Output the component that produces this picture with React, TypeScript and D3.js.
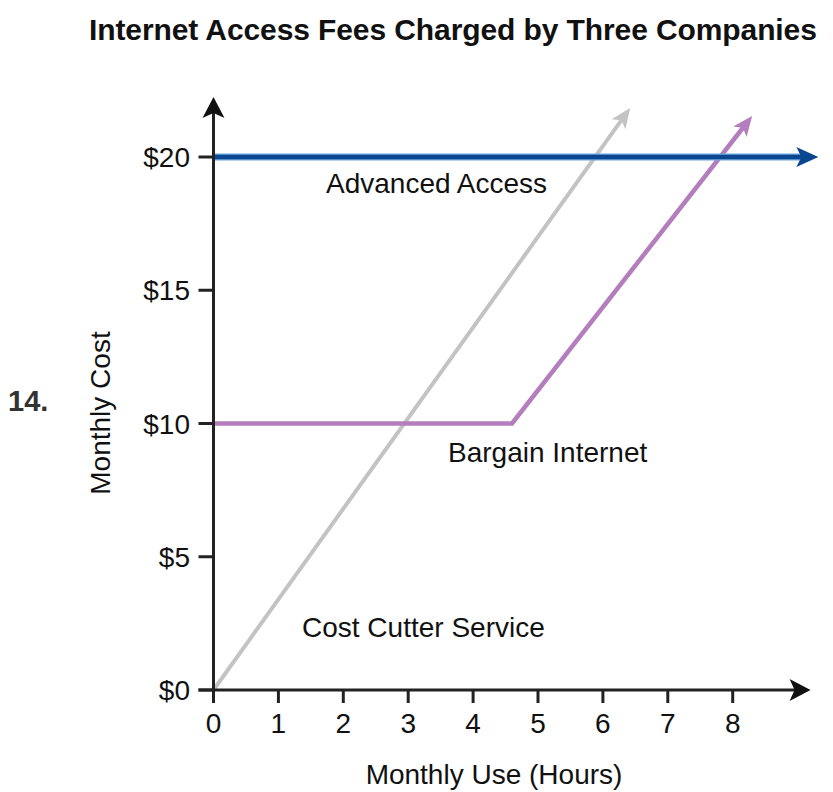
import React from 'react';
import * as d3 from 'd3';

const hourTicks = [0, 1, 2, 3, 4, 5, 6, 7, 8];
const costTicks = [0, 5, 10, 15, 20];
const costTickLabels = ['$0', '$5', '$10', '$15', '$20'];

const costCutterHours = [0, 6.42];
const costCutterCost = [0, 21.84];
const bargainHours = [0, 4.6, 8.3];
const bargainCost = [10, 10, 21.54];
const advancedHours = [0, 9.32];
const advancedCost = [20, 20];

const title = 'Internet Access Fees Charged by Three Companies';
const xTitle = 'Monthly Use (Hours)';
const yTitle = 'Monthly Cost';
const questionNo = '14.';

const FONT = '"Liberation Sans", Arial, Helvetica, sans-serif';

type P = [number, number];

function arrowGeom(pts: P[], L: number, W: number, N: number) {
  const p1 = pts[pts.length - 1];
  const p0 = pts[pts.length - 2];
  const dx = p1[0] - p0[0];
  const dy = p1[1] - p0[1];
  const len = Math.hypot(dx, dy);
  const ux = dx / len, uy = dy / len;
  const nx = -uy, ny = ux;
  const bx = p1[0] - L * ux, by = p1[1] - L * uy;
  const notch: P = [p1[0] - (L - N) * ux, p1[1] - (L - N) * uy];
  const head = [
    p1,
    [bx + (W / 2) * nx, by + (W / 2) * ny],
    notch,
    [bx - (W / 2) * nx, by - (W / 2) * ny],
  ];
  const linePts = [...pts.slice(0, -1), [p1[0] - (L - N - 1) * ux, p1[1] - (L - N - 1) * uy]] as P[];
  return { head: 'M' + head.map((p) => p.join(',')).join('L') + 'Z', linePts };
}

export default function App() {
  const x = d3.scaleLinear().domain([0, 8]).range([213.5, 732.7]);
  const y = d3.scaleLinear().domain([0, 20]).range([690, 157]);
  const line = d3.line<P>().x((d) => d[0]).y((d) => d[1]);

  const toPx = (hs: number[], cs: number[]): P[] => hs.map((h, i) => [x(h), y(cs[i])]);

  const cc = arrowGeom(toPx(costCutterHours, costCutterCost), 20, 17, 5);
  const bi = arrowGeom(toPx(bargainHours, bargainCost), 20, 17, 5);
  const aa = arrowGeom(toPx(advancedHours, advancedCost), 22, 20, 5);

  const yAxisTop = 22.25;
  const xAxisEnd = 9.2;
  const yAx = arrowGeom([[x(0), y(0) + 13], [x(0), y(yAxisTop)]], 21, 22, 5);
  const xAx = arrowGeom([[x(0) - 15, y(0)], [x(xAxisEnd), y(0)]], 21, 22, 5);

  const textStyle = { fontFamily: FONT, fontSize: 28, fill: '#111' } as const;

  return (
    <svg width={833} height={792} style={{ position: 'absolute', left: 0, top: 0, background: '#fff' }}>
      <rect width={833} height={792} fill="#fff" />
      <text x={89} y={40}
        style={{ fontFamily: FONT, fontSize: 30, fontWeight: 700, fill: '#111', letterSpacing: -0.1 }}>{title}</text>

      <text x={8} y={411} style={{ fontFamily: FONT, fontSize: 29, fontWeight: 700, fill: '#333' }}>{questionNo}</text>

      {/* series */}
      <path d={line(cc.linePts) || ''} fill="none" stroke="#c3c3c3" strokeWidth={4} />
      <path d={cc.head} fill="#c3c3c3" />

      <path d={line(bi.linePts) || ''} fill="none" stroke="#b47dbd" strokeWidth={4.5} strokeLinejoin="miter" />
      <path d={bi.head} fill="#b47dbd" />

      <path d={line(aa.linePts) || ''} fill="none" stroke="#6fa7dc" strokeWidth={7} />
      <path d={line(aa.linePts) || ''} fill="none" stroke="#0b4790" strokeWidth={4.5} />
      <path d={aa.head} fill="#0b4790" />

      {/* axes */}
      <path d={line(yAx.linePts) || ''} fill="none" stroke="#222" strokeWidth={3} />
      <path d={yAx.head} fill="#111" />
      <path d={line(xAx.linePts) || ''} fill="none" stroke="#222" strokeWidth={3} />
      <path d={xAx.head} fill="#111" />

      {costTicks.map((c, i) => (
        <g key={'yt' + c}>
          <line x1={x(0) - 15} x2={x(0)} y1={y(c)} y2={y(c)} stroke="#222" strokeWidth={3} />
          <text x={190} y={y(c) + 10} textAnchor="end" style={textStyle}>{costTickLabels[i]}</text>
        </g>
      ))}
      {hourTicks.map((h) => (
        <g key={'xt' + h}>
          <line x1={x(h)} x2={x(h)} y1={y(0)} y2={y(0) + 13} stroke="#222" strokeWidth={3} />
          <text x={x(h)} y={733} textAnchor="middle" style={textStyle}>{h}</text>
        </g>
      ))}

      <text x={494} y={784} textAnchor="middle" style={textStyle}>{xTitle}</text>
      <text transform="translate(110,413) rotate(-90)" textAnchor="middle" style={textStyle}>{yTitle}</text>

      <text x={326} y={193} style={textStyle}>Advanced Access</text>
      <text x={448} y={462} style={textStyle}>Bargain Internet</text>
      <text x={302} y={637} style={textStyle}>Cost Cutter Service</text>
    </svg>
  );
}
